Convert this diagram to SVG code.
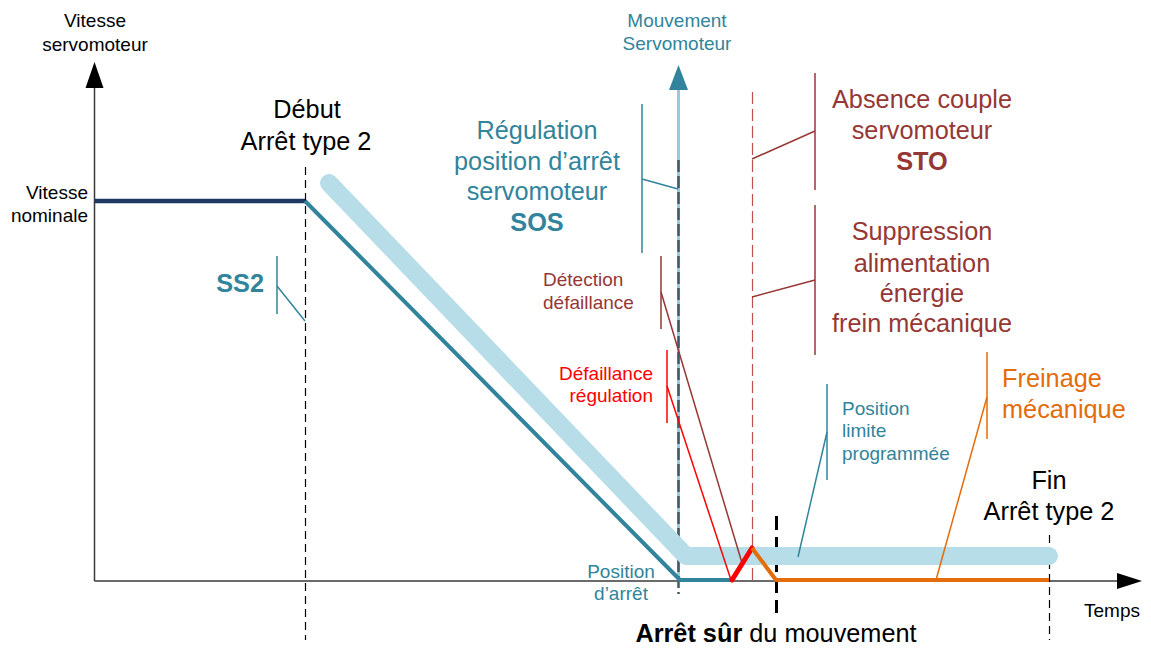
<svg xmlns="http://www.w3.org/2000/svg" width="1151" height="649" viewBox="0 0 1151 649">
  <style>
    text { font-family: "Liberation Sans", Arial, sans-serif; }
    .s { font-size: 19px; }
    .l { font-size: 25.3px; }
    .b { font-weight: bold; }
    .mid { text-anchor: middle; }
    .end { text-anchor: end; }
    .black { fill: #000000; }
    .teal { fill: #31849b; }
    .brown { fill: #953735; }
    .red { fill: #ff0000; }
    .orange { fill: #e46c0a; }
    .axis { stroke: #3a3a3a; stroke-width: 1.5; fill: none; }
    .dash { stroke: #000000; stroke-width: 1.2; stroke-dasharray: 8 5; fill: none; }
    .lead { stroke-width: 1.5; fill: none; }
  </style>

  <!-- axes -->
  <g id="axes">
    <line class="axis" x1="94.5" y1="581" x2="94.5" y2="84"/>
    <polygon points="94.5,62 85.5,88 103.5,88" fill="#000000"/>
    <line class="axis" x1="94.5" y1="581" x2="1120" y2="581"/>
    <polygon points="1142,581 1117,573 1117,589" fill="#000000"/>
    <text class="s black mid" x="95" y="27">Vitesse</text>
    <text class="s black mid" x="95" y="51">servomoteur</text>
    <text class="s black" x="1084" y="617">Temps</text>
  </g>

  <!-- motion axis -->
  <g id="axe-mouvement">
    <line x1="678.5" y1="581" x2="678.5" y2="86" stroke="#93cddd" stroke-width="3"/>
    <polygon points="678.5,65 669,90 688,90" fill="#31849b"/>
    <line x1="678.5" y1="160" x2="678.5" y2="594" stroke="#3d5b65" stroke-width="2.5" stroke-dasharray="12 4"/>
    <text class="s teal mid" x="677" y="27">Mouvement</text>
    <text class="s teal mid" x="677" y="50">Servomoteur</text>
  </g>

  <!-- time markers -->
  <g id="reperes">
    <line class="dash" x1="305.5" y1="167" x2="305.5" y2="640"/>
    <line class="dash" x1="1049.5" y1="535" x2="1049.5" y2="640"/>
    <line x1="752.5" y1="92" x2="752.5" y2="581" stroke="#c0504d" stroke-width="1.2" stroke-dasharray="12 5"/>
    <line x1="776.5" y1="516" x2="776.5" y2="613" stroke="#000000" stroke-width="3" stroke-dasharray="14 7"/>
  </g>

  <!-- speed / position curves -->
  <g id="courbes">
    <polyline points="329,183 686,556 1049,556" fill="none" stroke="#b7dde8" stroke-width="18" stroke-linecap="round" stroke-linejoin="round"/>
    <line x1="95" y1="201" x2="305" y2="201" stroke="#203864" stroke-width="4.5"/>
    <polyline points="305,201 680,580 732,580" fill="none" stroke="#31849b" stroke-width="4" stroke-linejoin="round"/>
    <line x1="732" y1="580" x2="752" y2="548" stroke="#ff0000" stroke-width="5" stroke-linecap="round"/>
    <polyline points="752,548 776,580 1049,580" fill="none" stroke="#e46c0a" stroke-width="4" stroke-linejoin="round"/>
  </g>

  <!-- callout leaders -->
  <g id="connecteurs">
    <g stroke="#31849b" class="lead">
      <line x1="277" y1="256" x2="277" y2="314"/>
      <line x1="277" y1="286" x2="305" y2="321"/>
      <line x1="642" y1="104" x2="642" y2="253"/>
      <line x1="642" y1="179" x2="678" y2="189"/>
      <line x1="827" y1="384" x2="827" y2="480"/>
      <line x1="827" y1="432" x2="798" y2="557"/>
    </g>
    <g stroke="#953735" class="lead">
      <line x1="815" y1="73" x2="815" y2="190"/>
      <line x1="752" y1="159" x2="815" y2="131"/>
      <line x1="815" y1="205" x2="815" y2="355"/>
      <line x1="752" y1="297" x2="815" y2="280"/>
      <line x1="661" y1="256" x2="661" y2="329"/>
      <line x1="661" y1="292" x2="742" y2="563"/>
    </g>
    <g stroke="#ff0000" class="lead">
      <line x1="667" y1="350" x2="667" y2="423"/>
      <line x1="667" y1="386" x2="731" y2="580"/>
    </g>
    <g stroke="#e46c0a" class="lead">
      <line x1="987" y1="352" x2="987" y2="439"/>
      <line x1="987" y1="397" x2="936" y2="580"/>
    </g>
  </g>

  <g id="vitesse-nominale">
    <text class="s black end" x="88" y="199">Vitesse</text>
    <text class="s black end" x="88" y="222">nominale</text>
  </g>

  <g id="debut">
    <text class="l black mid" x="307" y="118">Début</text>
    <text class="l black mid" x="306" y="150">Arrêt type 2</text>
  </g>

  <g id="ss2">
    <text class="l b teal end" x="264" y="292">SS2</text>
  </g>

  <g id="sos">
    <text class="l teal mid" x="537" y="139">Régulation</text>
    <text class="l teal mid" x="537" y="170">position d’arrêt</text>
    <text class="l teal mid" x="537" y="200">servomoteur</text>
    <text class="l b teal mid" x="537" y="231">SOS</text>
  </g>

  <g id="sto">
    <text class="l brown mid" x="922" y="108">Absence couple</text>
    <text class="l brown mid" x="922" y="139">servomoteur</text>
    <text class="l b brown mid" x="922" y="170">STO</text>
  </g>

  <g id="suppression-frein">
    <text class="l brown mid" x="922" y="240">Suppression</text>
    <text class="l brown mid" x="922" y="272">alimentation</text>
    <text class="l brown mid" x="922" y="302">énergie</text>
    <text class="l brown mid" x="922" y="332">frein mécanique</text>
  </g>

  <g id="detection">
    <text class="s brown" x="543" y="286">Détection</text>
    <text class="s brown" x="543" y="309">défaillance</text>
  </g>

  <g id="defaillance">
    <text class="s red end" x="653" y="380">Défaillance</text>
    <text class="s red end" x="653" y="402">régulation</text>
  </g>

  <g id="position-limite">
    <text class="s teal" x="842" y="415">Position</text>
    <text class="s teal" x="842" y="437">limite</text>
    <text class="s teal" x="842" y="460">programmée</text>
  </g>

  <g id="freinage">
    <text class="l orange" x="1002" y="387">Freinage</text>
    <text class="l orange" x="1002" y="418">mécanique</text>
  </g>

  <g id="fin">
    <text class="l black mid" x="1049" y="489">Fin</text>
    <text class="l black mid" x="1049" y="520">Arrêt type 2</text>
  </g>

  <g id="position-arret">
    <text class="s teal mid" x="621" y="578">Position</text>
    <text class="s teal mid" x="621" y="600">d’arrêt</text>
  </g>

  <g id="arret-sur">
    <text class="l black mid" x="776" y="642"><tspan class="b">Arrêt sûr</tspan> du mouvement</text>
  </g>
</svg>
